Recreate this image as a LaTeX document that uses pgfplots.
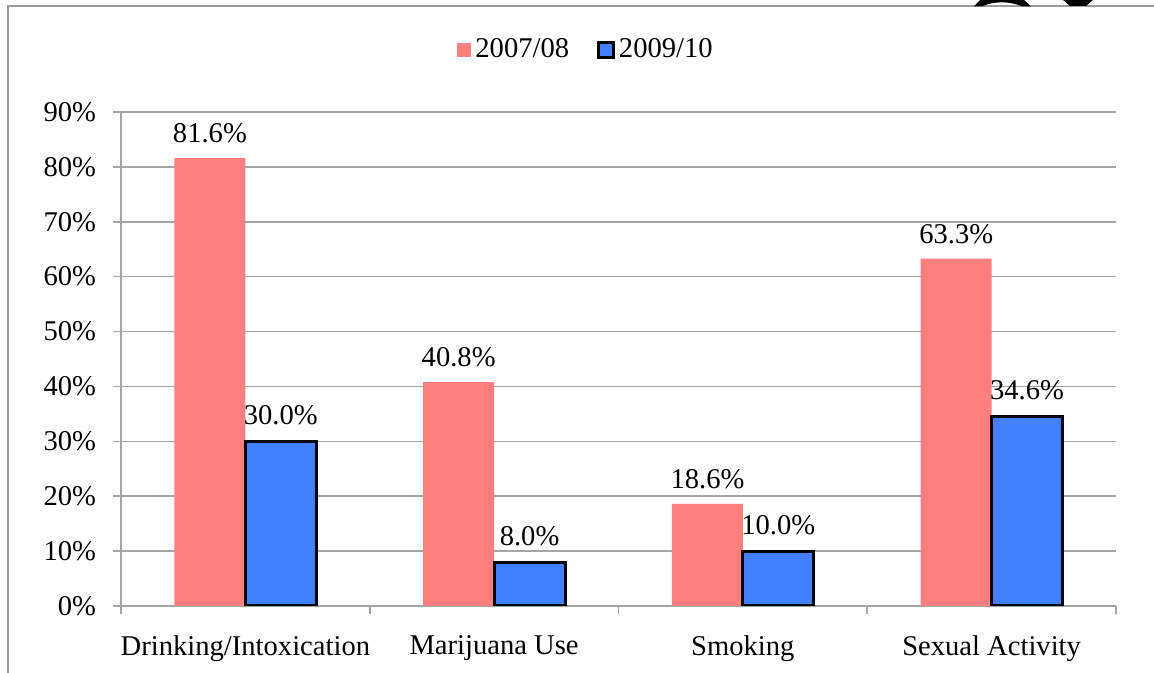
\documentclass[border=0pt]{standalone}
\usepackage{pgfplots}
\pgfplotsset{compat=1.18}
\usepackage{fontspec}
\setmainfont{Liberation Serif}

\definecolor{barred}{RGB}{255,127,127}
\definecolor{barblue}{RGB}{65,128,255}
\definecolor{framegray}{RGB}{155,155,155}
\definecolor{gridgray}{RGB}{165,165,165}

\begin{document}
\fontsize{14.3}{16}\selectfont
\begin{tikzpicture}
\path[use as bounding box] (0,0) rectangle (577pt,336.5pt);
% chart frame (cut off at the right and bottom)
\draw[framegray, line width=1pt] (4pt,0) -- (4pt,333.5pt) -- (577pt,333.5pt);
% bits of a logo sticking in at the top
\fill[black] (487pt,333.3pt) -- (490pt,336.5pt) -- (512pt,336.5pt) -- (515.5pt,333.3pt) -- (511pt,333.3pt)
   .. controls (505pt,336pt) and (497pt,336pt) .. (491pt,333.3pt) -- cycle;
\fill[black] (531.5pt,336.5pt) -- (546.5pt,336.5pt) -- (543pt,333.5pt) -- (535pt,333.5pt) -- cycle;

\begin{axis}[
    at={(60.5pt,33.5pt)}, anchor=south west,
    width=497.5pt, height=247pt, scale only axis,
    ybar=0pt, bar width=0.285,
    xmin=-0.5, xmax=3.5,
    ymin=0, ymax=90,
    axis x line=bottom, axis y line=left,
    axis line style={gridgray, line width=0.8pt, -},
    ytick={0,10,...,90},
    yticklabel={\pgfmathprintnumber{\tick}\%},
    yticklabel style={xshift=-3.5pt},
    /pgf/number format/assume math mode=true,
    ymajorgrids=true,
    grid style={gridgray, line width=0.8pt},
    tick align=outside,
    major tick length=4pt,
    tick style={gridgray, line width=0.8pt},
    xtick={-0.5,0.5,1.5,2.5,3.5},
    x tick label as interval,
    xticklabels={Drinking/Intoxication, Marijuana Use, Smoking, Sexual Activity},
    xticklabel style={yshift=-6pt},
    nodes near coords={\pgfmathprintnumber[fixed,fixed zerofill,precision=1]{\pgfplotspointmeta}\%},
    every node near coord/.append style={yshift=2.5pt, black},
    legend columns=2,
    legend style={at={(0.468,1)}, anchor=center, yshift=31pt, draw=none, fill=none,
        /tikz/every even column/.append style={column sep=12pt}},
]

\addplot[
    fill=barred, draw=none,
    legend image code/.code={\fill[barred] (0pt,-3.7pt) rectangle (7.4pt,3.7pt);},
    ]
    coordinates {(0,81.6) (1,40.8) (2,18.6) (3,63.3)};

\addplot[
    fill=barblue, draw=black, line width=1.5pt,
    legend image code/.code={\draw[fill=barblue, draw=black, line width=1.5pt] (0pt,-3.7pt) rectangle (7.4pt,3.7pt);},
    ]
    coordinates {(0,30.0) (1,8.0) (2,10.0) (3,34.6)};

\legend{2007/08, 2009/10}
\end{axis}
\end{tikzpicture}
\end{document}
